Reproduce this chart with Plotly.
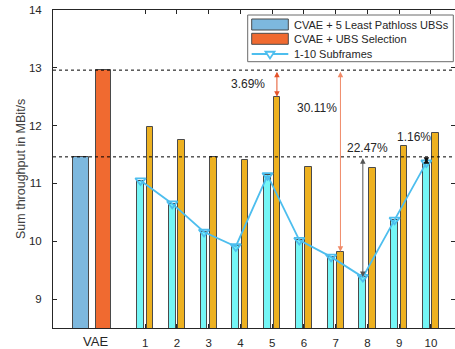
import plotly.graph_objects as go

# ---------------- data ----------------
subframes = [1, 2, 3, 4, 5, 6, 7, 8, 9, 10]
subframe_labels = ["1", "2", "3", "4", "5", "6", "7", "8", "9", "10"]
cvae_5least_sub = [11.05, 10.65, 10.16, 9.91, 11.14, 10.02, 9.73, 9.38, 10.37, 11.36]
cvae_select_sub = [11.98, 11.75, 11.46, 11.40, 12.50, 11.29, 9.82, 11.26, 11.65, 11.88]
vae_label = "VAE"
vae_5least = 11.46
vae_select = 12.96
gain_texts = ["3.69%", "30.11%", "22.47%", "1.16%"]
legend_names = ["CVAE + 5 Least Pathloss UBSs", "CVAE + UBS Selection", "1-10 Subframes"]
y_ticks = [9, 10, 11, 12, 13, 14]
y_title = "Sum throughput in MBit/s"

# ---------------- style ----------------
FONT = "Arial"
TXT = "#262626"
C_BLUE = "#7DB8DE"
C_ORANGE = "#F06A30"
C_GOLD = "#EDB120"
C_CYAN = "#74F6F6"
C_LINE = "#4DBEEE"
EDGE = "#4a4a4a"

W, H = 455, 349
L, R, T, B = 53, 0, 10, 21
PW, PH = W - L - R, H - T - B

VAE_X = -0.56
BW_SUB = 0.21
OFF_CYAN = -0.25
OFF_GOLD = 0.045


def px(xp):
    return (xp - L) / PW


def py(yp):
    return 1 - (yp - T) / PH


fig = go.Figure()

# VAE pair
fig.add_trace(go.Bar(x=[VAE_X], y=[vae_5least], width=0.5, offset=-0.70,
                     marker=dict(color=C_BLUE, line=dict(color=EDGE, width=1)),
                     showlegend=False, hoverinfo="skip"))
fig.add_trace(go.Bar(x=[VAE_X], y=[vae_select], width=0.5, offset=0.0,
                     marker=dict(color=C_ORANGE, line=dict(color=EDGE, width=1)),
                     showlegend=False, hoverinfo="skip"))
# subframes
fig.add_trace(go.Bar(x=subframes, y=cvae_5least_sub, width=BW_SUB, offset=OFF_CYAN,
                     marker=dict(color=C_CYAN, line=dict(color=EDGE, width=1)),
                     showlegend=False, hoverinfo="skip"))
fig.add_trace(go.Bar(x=subframes, y=cvae_select_sub, width=BW_SUB, offset=OFF_GOLD,
                     marker=dict(color=C_GOLD, line=dict(color=EDGE, width=1)),
                     showlegend=False, hoverinfo="skip"))

cyan_centers = [s + OFF_CYAN + BW_SUB / 2 for s in subframes]
gold_centers = [s + OFF_GOLD + BW_SUB / 2 for s in subframes]

fig.add_trace(go.Scatter(x=cyan_centers, y=cvae_5least_sub, mode="lines+markers",
                         line=dict(color=C_LINE, width=1.8),
                         marker=dict(symbol="triangle-down-open", size=9, color=C_LINE,
                                     line=dict(width=1.8, color=C_LINE)),
                         showlegend=False, hoverinfo="skip"))

x_range = [-1.9, 10.757]
shapes = []
# dotted reference lines
for yv in [vae_5least, vae_select]:
    shapes.append(dict(type="line", xref="x", yref="y", x0=x_range[0], x1=x_range[1], y0=yv, y1=yv,
                       line=dict(color="black", width=1, dash="dot"), layer="above"))

ann = []
# arrows
arrows = [
    (gold_centers[4], vae_select, cvae_select_sub[4], "#E5532A", 1.0),
    (gold_centers[6], vae_select, cvae_select_sub[6], "#F08A68", 1.0),
    (cyan_centers[7], vae_5least, cvae_5least_sub[7], "#555555", 1.0),
    (cyan_centers[9], vae_5least, cvae_5least_sub[9], "#111111", 1.0),
]
for xa, y0, y1, col, wd in arrows:
    ann.append(dict(x=xa, y=y1, ax=xa, ay=y0, xref="x", yref="y", axref="x", ayref="y",
                    text="", showarrow=True, arrowhead=2, arrowside="end+start",
                    arrowsize=1.1, arrowwidth=wd, arrowcolor=col))

# gain labels
gain_pos = [(4.236, 12.72), (6.41, 12.31), (8.017, 11.62), (9.48, 11.81)]
for t, (xa, ya) in zip(gain_texts, gain_pos):
    ann.append(dict(x=xa, y=ya, xref="x", yref="y", text=t, showarrow=False,
                    font=dict(family=FONT, size=12, color=TXT)))

# VAE category label
ann.append(dict(x=VAE_X, y=0, xref="x", yref="paper", yanchor="top", yshift=-4,
                text=vae_label, showarrow=False, font=dict(family=FONT, size=13, color=TXT)))

# y axis title
ann.append(dict(x=px(21), y=0.5, xref="paper", yref="paper", xanchor="center", yanchor="middle",
                text=y_title, textangle=-90, showarrow=False,
                font=dict(family=FONT, size=12.5, color="#404040")))

# ---------------- custom legend ----------------
shapes.append(dict(type="rect", xref="paper", yref="paper", x0=px(247.7), x1=px(453.3),
                   y0=py(61.7), y1=py(15), line=dict(color="#6a6a6a", width=1),
                   fillcolor="white", layer="above"))
sx0, sx1 = px(251.7), px(288.3)
shapes.append(dict(type="rect", xref="paper", yref="paper", x0=sx0, x1=sx1, y0=py(30), y1=py(19),
                   line=dict(color=EDGE, width=1), fillcolor=C_BLUE, layer="above"))
shapes.append(dict(type="rect", xref="paper", yref="paper", x0=sx0, x1=sx1, y0=py(44.3), y1=py(33.3),
                   line=dict(color=EDGE, width=1), fillcolor=C_ORANGE, layer="above"))
shapes.append(dict(type="line", xref="paper", yref="paper", x0=sx0, x1=sx1, y0=py(54), y1=py(54),
                   line=dict(color=C_LINE, width=1.8), layer="above"))
mx, my, r = 270, 54, 4.5
tri = "M {a},{b} L {c},{b} L {d},{e} Z".format(a=px(mx - r), b=py(my - r / 2), c=px(mx + r),
                                                d=px(mx), e=py(my + r))
shapes.append(dict(type="path", xref="paper", yref="paper", path=tri,
                   line=dict(color=C_LINE, width=1.8), fillcolor="white", layer="above"))
for name, yy in zip(legend_names, [25, 39, 54]):
    ann.append(dict(x=px(291.7), y=py(yy), xref="paper", yref="paper", xanchor="left",
                    yanchor="middle", text=name, showarrow=False,
                    font=dict(family=FONT, size=11, color=TXT)))

fig.update_layout(
    width=W, height=H, margin=dict(l=L, r=R, t=T, b=B, autoexpand=False),
    paper_bgcolor="white", plot_bgcolor="white",
    barmode="overlay", bargap=0, showlegend=False,
    font=dict(family=FONT, size=11.5, color=TXT),
    shapes=shapes, annotations=ann,
    xaxis=dict(range=x_range, tickmode="array", tickvals=subframes, ticktext=subframe_labels,
               ticks="inside", ticklen=4, tickcolor=TXT, showline=True, linecolor=TXT,
               linewidth=1, mirror="ticks", showgrid=False, zeroline=False,
               ticklabelstandoff=4, tickfont=dict(family=FONT, size=11.5, color=TXT)),
    yaxis=dict(range=[8.5, 14], tickvals=y_ticks, ticks="inside", ticklen=4, tickcolor=TXT,
               showline=True, linecolor=TXT, linewidth=1, mirror="ticks", showgrid=False,
               zeroline=False, ticklabelstandoff=8,
               tickfont=dict(family=FONT, size=11.5, color=TXT)),
)

fig.write_html("out.html")
